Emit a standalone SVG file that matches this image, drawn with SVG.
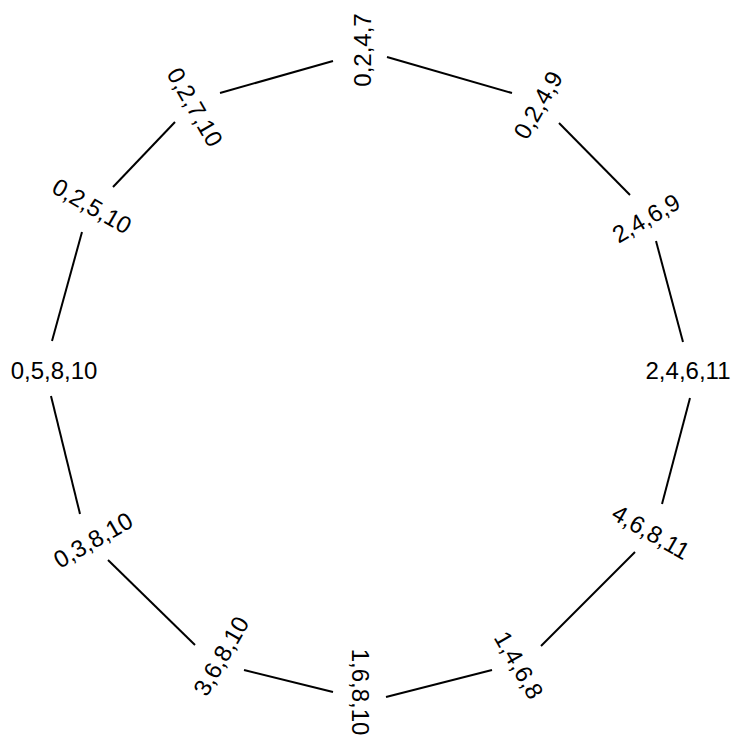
<svg xmlns="http://www.w3.org/2000/svg" width="734" height="740" viewBox="0 0 734 740">
<style>
.bg{fill:#ffffff}
.edge{stroke:#000;stroke-width:2;fill:none;stroke-linecap:butt}
.lbl{font-family:"Liberation Sans",Arial,sans-serif;font-size:24px;fill:#000;text-anchor:middle;dominant-baseline:central}
</style>
<rect class="bg" x="0" y="0" width="734" height="740"/>
<g id="edges">
<line class="edge" x1="387" y1="57" x2="512" y2="93"/>
<line class="edge" x1="559" y1="123" x2="630" y2="195"/>
<line class="edge" x1="656" y1="241" x2="683" y2="342"/>
<line class="edge" x1="690" y1="398" x2="662" y2="504"/>
<line class="edge" x1="635" y1="552" x2="541" y2="646"/>
<line class="edge" x1="492" y1="670" x2="386" y2="697"/>
<line class="edge" x1="333" y1="692" x2="244" y2="670"/>
<line class="edge" x1="195" y1="645" x2="108" y2="560"/>
<line class="edge" x1="80" y1="514" x2="51" y2="396"/>
<line class="edge" x1="52" y1="341" x2="82" y2="232"/>
<line class="edge" x1="113" y1="187" x2="175" y2="122"/>
<line class="edge" x1="220" y1="93" x2="333" y2="61"/>
</g>
<g id="n0247"><text class="lbl" transform="translate(362,50) rotate(-90)">0,2,4,7</text></g>
<g id="n0249"><text class="lbl" transform="translate(538,105) rotate(-60)">0,2,4,9</text></g>
<g id="n2469"><text class="lbl" transform="translate(646,218) rotate(-30)">2,4,6,9</text></g>
<g id="n24611"><text class="lbl" transform="translate(688,370)">2,4,6,11</text></g>
<g id="n46811"><text class="lbl" transform="translate(651,532) rotate(30)">4,6,8,11</text></g>
<g id="n1468"><text class="lbl" transform="translate(519,665) rotate(60)">1,4,6,8</text></g>
<g id="n16810"><text class="lbl" transform="translate(360,692) rotate(90)">1,6,8,10</text></g>
<g id="n36810"><text class="lbl" transform="translate(221,656) rotate(-60)">3,6,8,10</text></g>
<g id="n03810"><text class="lbl" transform="translate(93,540) rotate(-30)">0,3,8,10</text></g>
<g id="n05810"><text class="lbl" transform="translate(54,370)">0,5,8,10</text></g>
<g id="n02510"><text class="lbl" transform="translate(92,206) rotate(30)">0,2,5,10</text></g>
<g id="n02710"><text class="lbl" transform="translate(195,107) rotate(60)">0,2,7,10</text></g>
</svg>
